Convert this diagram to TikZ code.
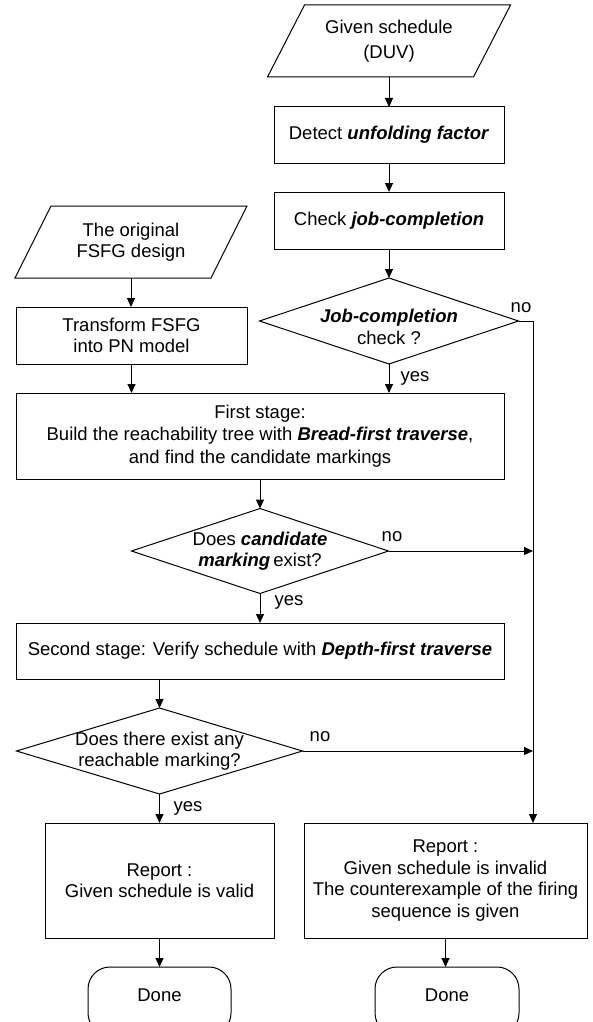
\documentclass[tikz,border=0pt]{standalone}
\usepackage{fontspec}
\setmainfont{Liberation Sans}
\usetikzlibrary{shapes.geometric,arrows.meta}
\newcommand{\emphbi}[1]{\textbf{\textit{#1}}}
\begin{document}
\begin{tikzpicture}[x=1pt,y=-1pt,
  every node/.style={font=\fontsize{18.5}{21.5}\selectfont, inner sep=0pt, outer sep=0pt},
  shape line/.style={draw=black, line width=1pt},
  procbox/.style={shape line, rectangle},
  iobox/.style={rectangle, align=center},
  decision/.style={shape line, diamond},
  terminal/.style={shape line, rectangle, rounded corners=22pt},
  txt/.style={align=center},
  arr/.style={line width=1pt, -{Triangle[length=9pt,width=8pt]}}
]
\clip (0,0) rectangle (592,1022);

% ---- right column: schedule input and checks
\node[iobox, minimum width=243pt, minimum height=72pt]
  (in1) at (389,41) {Given schedule\\[4pt](DUV)};
\draw[shape line] (in1.south west) -- ([xshift=-37pt]in1.south east)
  -- (in1.north east) -- ([xshift=37pt]in1.north west) -- cycle;
\node[procbox, minimum width=230pt, minimum height=56pt] (detect) at (389,135)
  {Detect \emphbi{unfolding factor}};
\node[procbox, minimum width=230pt, minimum height=57pt] (check) at (389,220.5)
  {Check \emphbi{job-completion}};
\node[decision, minimum width=259pt, minimum height=86pt] (d1) at (389,321) {};
\node[txt] (d1t) at (389,327) {\emphbi{Job-completion}\\check ?};

% ---- left column: design input
\node[iobox, minimum width=232pt, minimum height=72pt]
  (in2) at (131,242) {The original\\FSFG design};
\draw[shape line] (in2.south west) -- ([xshift=-36pt]in2.south east)
  -- (in2.north east) -- ([xshift=36pt]in2.north west) -- cycle;
\node[procbox, txt, font=\fontsize{18.5}{20.5}\selectfont, minimum width=231pt, minimum height=57pt]
  (transform) at (131.5,335.5) {Transform FSFG\\into PN model};

% ---- main flow
\node[procbox, txt, minimum width=488pt, minimum height=86pt]
  (first) at (260,436)
  {First stage:\\[1pt]Build the reachability tree with \emphbi{Bread-first traverse},\\[1pt]and find the candidate markings};
\node[decision, minimum width=257pt, minimum height=85pt] (d2) at (260,551) {};
\node[txt] (d2t) at (260,551) {Does \emphbi{candidate}\\\emphbi{marking}\,exist?};
\node[procbox, minimum width=488pt, minimum height=56pt] (second) at (260,651)
  {Second stage: Verify schedule with \emphbi{Depth-first traverse}};
\node[decision, minimum width=286pt, minimum height=86pt] (d3) at (159.5,751) {};
\node[txt] (d3t) at (159.5,751) {Does there exist any\\reachable marking?};

% ---- reports and ends
\node[procbox, txt, minimum width=229pt, minimum height=115pt] (valid) at (159.5,880.5)
  {Report :\\Given schedule is valid};
\node[procbox, txt, minimum width=283pt, minimum height=115pt] (invalid) at (445.5,880.5)
  {Report :\\Given schedule is invalid\\The counterexample of the firing\\sequence is given};
\node[terminal, minimum width=143pt, minimum height=68pt] (done1) at (159.5,1001) {};
\node (done1t) at (159.5,995) {Done};
\node[terminal, minimum width=144pt, minimum height=68pt] (done2) at (447,1001) {};
\node (done2t) at (447,995) {Done};

% rail on the right collecting the failed checks
\coordinate (rail) at (533,0);

% ---- connectors
\draw[arr] (in1.south) -- (detect.north);
\draw[arr] (detect.south) -- (check.north);
\draw[arr] (check.south) -- (d1.north);
\draw[arr] (in2.south) -- (in2.south |- transform.north);
\draw[arr] (transform.south) -- (transform.south |- first.north);
\draw[arr] (d1.south) -- (d1.south |- first.north);
\draw[arr] (first.south) -- (d2.north);
\draw[arr] (d2.south) -- (second.north);
\draw[arr] (d3.north |- second.south) -- (d3.north);
\draw[arr] (d3.south) -- (d3.south |- valid.north);
\draw[arr] (valid.south) -- (done1.north);
\draw[arr] (invalid.south) -- (invalid.south |- done2.north);

\draw[arr] (d1.east) -| (invalid.north -| rail);
\draw[arr] (d2.east) -- (d2.east -| rail);
\draw[arr] (d3.east) -- (d3.east -| rail);

% ---- branch labels
\node (no1) at (521,308) {no};
\node (yes1) at (415,378) {yes};
\node (no2) at (392,537) {no};
\node (yes2) at (289,602) {yes};
\node (no3) at (320,737) {no};
\node (yes3) at (188,808) {yes};
\end{tikzpicture}
\end{document}
